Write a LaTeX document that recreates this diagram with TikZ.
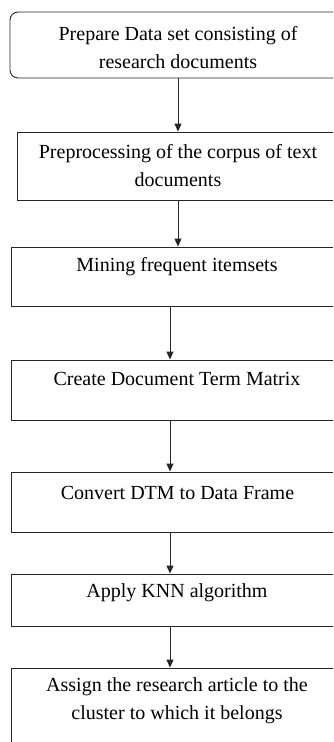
\documentclass[tikz,border=0pt]{standalone}
\usepackage{fontspec}
\setmainfont{Liberation Serif}
\usetikzlibrary{arrows.meta}
\begin{document}
\begin{tikzpicture}[x=1pt,y=-1pt,
  box/.style={draw=black!85, line width=0.9pt, inner sep=0pt},
  rbox/.style={box, rounded corners=8pt},
  lbl/.style={align=center, inner sep=0pt, font=\fontsize{20}{28}\selectfont},
  arr/.style={draw=black!85, line width=0.9pt, -{Triangle[width=7pt,length=8pt]}}]
\useasboundingbox (0,0) rectangle (333,742);
\clip (0,0) rectangle (333,742);
% boxes
\node[rbox, minimum width=334pt, minimum height=66pt] (b1) at (177,45) {};
\node[box, minimum width=327pt, minimum height=68pt] (b2) at (180.5,166) {};
\node[box, minimum width=333pt, minimum height=59pt] (b3) at (177.5,276.5) {};
\node[box, minimum width=333pt, minimum height=60pt] (b4) at (177.5,390) {};
\node[box, minimum width=333pt, minimum height=60pt] (b5) at (177.5,502) {};
\node[box, minimum width=333pt, minimum height=52pt] (b6) at (177.5,600) {};
\node[box, minimum width=333pt, minimum height=92pt] (b7) at (177.5,714) {};
% texts
\node[lbl] (t1) at (178,47.5) {Prepare Data set consisting of\\research documents};
\node[lbl] (t2) at (178,166) {Preprocessing of the corpus of text\\documents};
\node[lbl] (t3) at (177,267) {Mining frequent itemsets};
\node[lbl] (t4) at (177,379) {Create Document Term Matrix};
\node[lbl] (t5) at (177.5,493) {Convert DTM to Data Frame};
\node[lbl] (t6) at (177,593) {Apply KNN algorithm};
\node[lbl] (t7) at (177,700.5) {Assign the research article to the\\cluster to which it belongs};
% arrow x positions
\coordinate (xa) at (178,0);
\coordinate (xb) at (170,0);
\draw[arr] (b1.south -| xa) -- (b2.north -| xa);
\draw[arr] (b2.south -| xa) -- (b3.north -| xa);
\draw[arr] (b3.south -| xb) -- (b4.north -| xb);
\draw[arr] (b4.south -| xb) -- (b5.north -| xb);
\draw[arr] (b5.south -| xb) -- (b6.north -| xb);
\draw[arr] (b6.south -| xb) -- (b7.north -| xb);
\end{tikzpicture}
\end{document}
